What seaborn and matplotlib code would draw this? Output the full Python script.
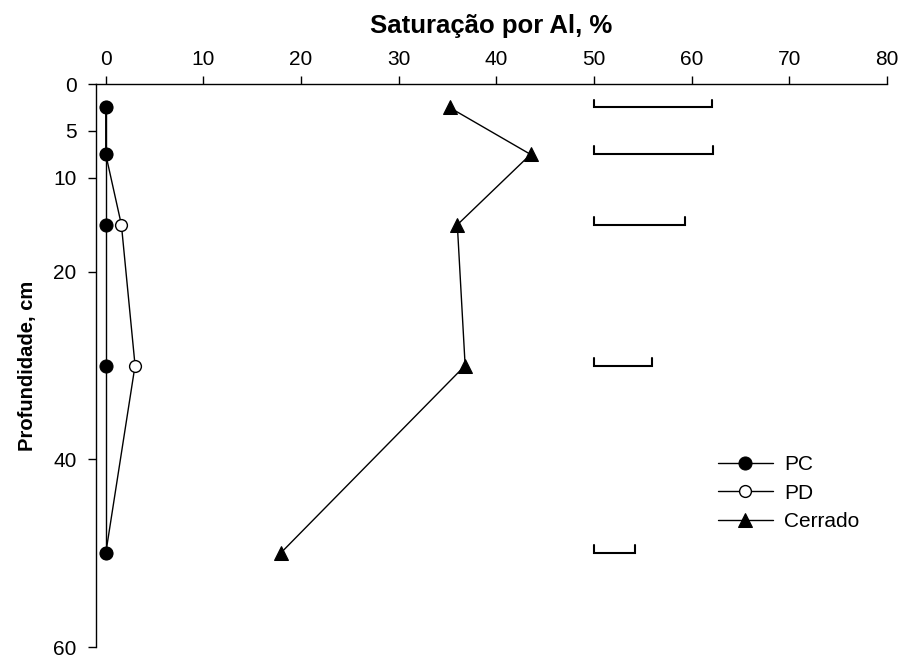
import numpy as np
import pandas as pd
import matplotlib
matplotlib.use("Agg")
import matplotlib.pyplot as plt
import seaborn as sns

# dados
profundidade = [2.5, 7.5, 15, 30, 50]
pc = [0.0, 0.0, 0.0, 0.0, 0.0]
pd_vals = [0.0, 0.0, 1.6, 3.0, 0.0]
cerrado = [35.2, 43.5, 36.0, 36.8, 17.9]
dms = [12.1, 12.2, 9.3, 5.9, 4.2]   # barras (DMS) a partir de 50
dms_inicio = 50

x_ticks = [0, 10, 20, 30, 40, 50, 60, 70, 80]
y_ticks = [0, 5, 10, 20, 40, 60]

sns.set_style("ticks")
plt.rcParams['font.family'] = ['Liberation Sans', 'DejaVu Sans']
plt.rcParams['text.color'] = 'black'
plt.rcParams['axes.labelcolor'] = 'black'

fig = plt.figure(figsize=(9.04, 6.57), dpi=100)
ax = fig.add_axes([0.1062, 0.0152, 0.875, 0.8569])

sns.lineplot(x=pd_vals, y=profundidade, sort=False, estimator=None, ax=ax,
             color='black', lw=1, marker='o', markersize=8.5,
             markerfacecolor='white', markeredgecolor='black',
             markeredgewidth=1, label='PD', zorder=3)
sns.lineplot(x=pc, y=profundidade, sort=False, estimator=None, ax=ax,
             color='black', lw=1, marker='o', markersize=9.4,
             markerfacecolor='black', markeredgecolor='black',
             label='PC', zorder=4)
sns.lineplot(x=cerrado, y=profundidade, sort=False, estimator=None, ax=ax,
             color='black', lw=1, marker='^', markersize=10,
             markerfacecolor='black', markeredgecolor='black',
             label='Cerrado', zorder=4)

# barras de diferenca
for d, w in zip(profundidade, dms):
    ax.plot([dms_inicio, dms_inicio, dms_inicio + w, dms_inicio + w],
            [d - 0.85, d, d, d - 0.85], color='black', lw=1.5,
            solid_joinstyle='miter', zorder=2)

ax.set_xlim(-1.0, 80)
ax.set_ylim(60, 0)
ax.set_xticks(x_ticks)
ax.set_yticks(y_ticks)
ax.xaxis.tick_top()
ax.xaxis.set_label_position('top')
ax.tick_params(axis='both', labelsize=15, direction='out', length=6,
               width=1, colors='black')
ax.tick_params(axis='x', pad=5)
ax.tick_params(axis='y', pad=8)
ax.set_xlabel('Saturação por Al, %', fontsize=18.5, fontweight='bold', labelpad=12)
ax.set_ylabel('Profundidade, cm', fontsize=14.5, fontweight='bold', labelpad=12)
for s in ['right', 'bottom']:
    ax.spines[s].set_visible(False)
for s in ['left', 'top']:
    ax.spines[s].set_color('black')
    ax.spines[s].set_linewidth(1)

handles, labels = ax.get_legend_handles_labels()
order = [labels.index('PC'), labels.index('PD'), labels.index('Cerrado')]
ax.legend([handles[i] for i in order], [labels[i] for i in order],
          loc='center left', bbox_to_anchor=(0.786, 0.2735), frameon=False,
          fontsize=15, handlelength=2.64, labelspacing=0.45, handletextpad=0.55,
          borderaxespad=0, borderpad=0)

fig.savefig('out.png', dpi=100)
